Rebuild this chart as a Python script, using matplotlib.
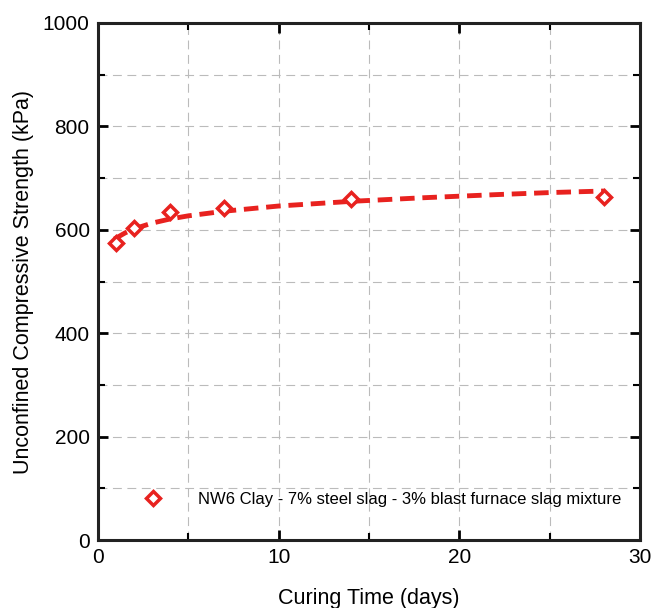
import matplotlib
matplotlib.use("Agg")
from matplotlib import pyplot as plt
from matplotlib.ticker import MultipleLocator

# measured strength
days = [1, 2, 4, 7, 14, 28]
ucs = [574, 603, 634, 643, 659, 663]

# fitted trend
fit_days = [0.9, 1.5, 2, 3, 4, 5, 7, 10, 14, 18, 22, 25, 28]
fit_ucs = [582, 594, 602, 613, 621, 627, 636, 646, 655, 662, 668, 672, 675]

label = 'NW6 Clay - 7% steel slag - 3% blast furnace slag mixture'

plt.rcParams['font.family'] = ['Liberation Sans', 'DejaVu Sans']

fig = plt.figure(figsize=(6.52, 6.08), dpi=100)
ax = fig.add_axes([98 / 652, 68 / 608, 542 / 652, 517 / 608])

ax.plot(fit_days, fit_ucs, color='#e8221f', linestyle=(0, (3, 1.6)), linewidth=3.5, zorder=3)
ax.plot(days, ucs, linestyle='none', marker='D', markersize=7, markerfacecolor='white',
        markeredgecolor='#e8221f', markeredgewidth=2.5, zorder=4, label=label)

ax.set_xlim(0, 30)
ax.set_ylim(0, 1000)
ax.xaxis.set_major_locator(MultipleLocator(10))
ax.xaxis.set_minor_locator(MultipleLocator(5))
ax.yaxis.set_major_locator(MultipleLocator(200))
ax.yaxis.set_minor_locator(MultipleLocator(100))
ax.grid(True, which='both', color='#bbbbbb', linestyle=(0, (8, 5)), linewidth=0.8)
ax.tick_params(which='both', direction='in', top=True, right=True, labelsize=15)
ax.tick_params(which='major', length=7, width=2, pad=6)
ax.tick_params(which='minor', length=5, width=1.5)
for s in ax.spines.values():
    s.set_linewidth(2.2)
    s.set_color('#222222')

ax.set_xlabel('Curing Time (days)', fontsize=15.5, labelpad=15)
ax.set_ylabel('Unconfined Compressive Strength (kPa)', fontsize=15.5, labelpad=6)

ax.legend(loc='lower left', bbox_to_anchor=(0.05, 0.035), frameon=False, fontsize=12,
          handlelength=1.5, handletextpad=2.0)

fig.savefig('out.png', dpi=100)
